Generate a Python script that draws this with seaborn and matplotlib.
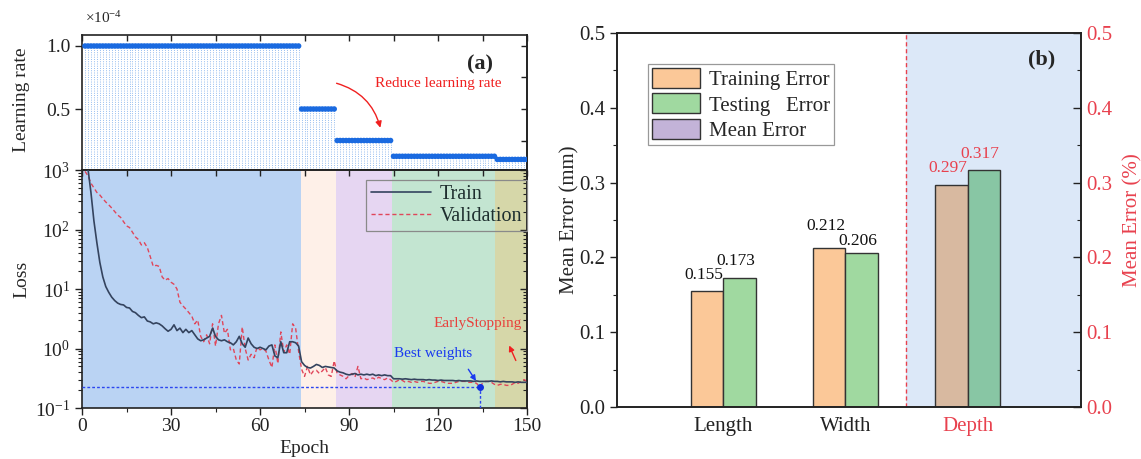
import numpy as np
import pandas as pd
import matplotlib
matplotlib.use("Agg")
import matplotlib.pyplot as plt
import seaborn as sns
from matplotlib.patches import Patch
from matplotlib.ticker import MultipleLocator, NullFormatter, FixedLocator

# ---------------- data ----------------
epochs = list(range(1, 151))

lr_levels = [1.0, 0.5, 0.25, 0.125, 0.1]          # x 1e-4
lr_epoch_counts = [73, 12, 19, 35, 11]
phase_edges = [0, 73.8, 85.6, 104.5, 139.2, 150]
phase_colors = ["#BAD3F3", "#FEF0E8", "#E6D6F2", "#C3E5D1", "#D6D7A9"]

train_loss = [
    1500, 1050, 420, 140, 60, 28, 16, 11, 8.8, 7.3,
    6.4, 5.8, 5.5, 5.4, 4.9, 4.8, 4.2, 4.0, 3.6, 3.3,
    3.4, 2.9, 2.8, 2.6, 2.7, 2.6, 2.4, 2.15, 1.95, 2.1,
    2.5, 2.0, 2.2, 1.85, 2.1, 1.85, 2.0, 1.7, 1.45, 1.35,
    1.4, 1.5, 1.6, 2.2, 1.6, 1.4, 1.35, 1.4, 1.3, 1.25,
    1.15, 1.3, 1.6, 1.2, 1.05, 1.5, 1.2, 1.05, 1.0, 1.05,
    1.0, 0.95, 1.1, 1.15, 0.75, 0.7, 1.3, 0.85, 0.85, 1.3,
    1.3, 1.25, 1.1, 0.6, 0.52, 0.48, 0.47, 0.5, 0.54, 0.52,
    0.48, 0.5, 0.49, 0.48, 0.47, 0.42, 0.40, 0.39, 0.37, 0.36,
    0.37, 0.38, 0.36, 0.37, 0.36, 0.37, 0.36, 0.37, 0.35, 0.36,
    0.35, 0.36, 0.35, 0.35, 0.31, 0.31, 0.31, 0.305, 0.31, 0.305,
    0.30, 0.305, 0.30, 0.30, 0.30, 0.295, 0.30, 0.295, 0.295, 0.29,
    0.295, 0.29, 0.29, 0.29, 0.29, 0.285, 0.29, 0.285, 0.285, 0.285,
    0.285, 0.28, 0.285, 0.28, 0.28, 0.28, 0.28, 0.285, 0.28, 0.28,
    0.275, 0.28, 0.275, 0.275, 0.275, 0.27, 0.275, 0.27, 0.27, 0.27,
]

val_loss = [
    950, 800, 600, 500, 420, 380, 330, 290, 260, 230,
    200, 175, 160, 135, 115, 108, 90, 75, 68, 55,
    60, 50, 35, 24, 25, 24, 16, 14, 15, 13,
    12, 10, 6.0, 5.2, 4.6, 4.0, 3.5, 2.6, 3.0, 1.6,
    1.3, 1.7, 1.2, 2.6, 1.1, 2.6, 3.6, 1.8, 2.1, 0.95,
    1.0, 0.64, 0.55, 2.3, 1.0, 0.64, 0.8, 0.7, 1.06, 0.95,
    1.0, 0.9, 0.64, 0.48, 1.15, 0.56, 1.9, 0.88, 1.15, 0.8,
    2.6, 2.2, 0.9, 0.45, 0.34, 0.5, 0.36, 0.42, 0.43, 0.38,
    0.42, 0.48, 0.36, 0.34, 0.62, 0.38, 0.36, 0.34, 0.31, 0.35,
    0.38, 0.33, 0.5, 0.31, 0.32, 0.30, 0.31, 0.32, 0.30, 0.33,
    0.31, 0.30, 0.32, 0.30, 0.27, 0.28, 0.30, 0.29, 0.27, 0.28,
    0.27, 0.28, 0.27, 0.28, 0.28, 0.27, 0.26, 0.26, 0.27, 0.28,
    0.28, 0.27, 0.26, 0.26, 0.26, 0.27, 0.28, 0.28, 0.28, 0.27,
    0.27, 0.27, 0.26, 0.225, 0.26, 0.28, 0.28, 0.27, 0.25, 0.24,
    0.25, 0.25, 0.24, 0.24, 0.25, 0.27, 0.26, 0.28, 0.30, 0.28,
]
best_epoch = 134

dims = ["Length", "Width", "Depth"]
train_err = [0.155, 0.212, 0.297]
test_err = [0.173, 0.206, 0.317]
legend_labels = ["Training Error", "Testing   Error", "Mean Error"]

# ---------------- style ----------------
sns.set_theme(style="ticks")
plt.rcParams["font.family"] = ["Liberation Serif", "DejaVu Serif"]
plt.rcParams["mathtext.fontset"] = "custom"
plt.rcParams["mathtext.rm"] = "Liberation Serif"
plt.rcParams["mathtext.it"] = "Liberation Serif:italic"
plt.rcParams["mathtext.bf"] = "Liberation Serif:bold"
plt.rcParams["axes.linewidth"] = 1.2
plt.rcParams["axes.edgecolor"] = "#222222"
plt.rcParams["xtick.color"] = "#222222"
plt.rcParams["ytick.color"] = "#222222"

RED = "#E8414E"
C_TRAIN = "#FBC898"
C_TEST = "#A0D9A0"
C_MEAN = "#C3B3D8"
C_TRAIN_D = "#D8B9A0"
C_TEST_D = "#88C6A4"

fig = plt.figure(figsize=(11.41, 4.59), dpi=100)
ax_lr = fig.add_axes([0.0719, 0.6296, 0.390, 0.2941])
ax_loss = fig.add_axes([0.0719, 0.1111, 0.390, 0.5185])
ax_bar = fig.add_axes([0.5408, 0.1133, 0.4067, 0.8148])

# ---------------- learning rate ----------------
lr = [lv for lv, n in zip(lr_levels, lr_epoch_counts) for _ in range(n)]
lr_bottom = 0.016
ax_lr.set_xlim(0, 150)
ax_lr.set_ylim(lr_bottom, 1.087)
ax_lr.vlines(epochs, lr_bottom, lr, colors="#86B4EE", linestyles=(0, (1, 1.5)),
             linewidth=0.65, zorder=1)
sns.scatterplot(x=epochs, y=lr, ax=ax_lr, s=16, color="#1A6AE0",
                edgecolor="none", zorder=3, legend=False)
ax_lr.xaxis.tick_top()
ax_lr.xaxis.set_major_locator(MultipleLocator(15))
ax_lr.tick_params(axis="x", direction="in", length=4, width=1, labeltop=False,
                  labelbottom=False)
ax_lr.set_yticks([0.5, 1.0])
ax_lr.set_yticklabels(["0.5", "1.0"])
ax_lr.tick_params(axis="y", direction="out", length=5, width=1, labelsize=14)
sec_lr = ax_lr.secondary_yaxis("right")
sec_lr.yaxis.set_major_locator(FixedLocator([0.25, 0.5, 0.75, 1.0]))
sec_lr.yaxis.set_major_formatter(NullFormatter())
sec_lr.tick_params(direction="in", length=4, width=1)
ax_lr.set_ylabel("Learning rate", fontsize=14)
ax_lr.yaxis.set_label_coords(-0.117, 0.52)
fig.text(85 / 1141, 1 - 18 / 459, r"$\times$10$^{-4}$", fontsize=11,
         ha="left", va="center")
ax_lr.text(134, 0.857, "(a)", fontsize=16, fontweight="bold", ha="center",
           va="center")
ax_lr.text(98.8, 0.706, "Reduce learning rate", fontsize=11, color="#F02020",
           ha="left", va="center")
ax_lr.annotate("", xy=(100.8, 0.33), xytext=(84.9, 0.71),
               arrowprops=dict(arrowstyle="-|>", color="#F02020", lw=1,
                               connectionstyle="arc3,rad=-0.3",
                               mutation_scale=9))

# ---------------- loss ----------------
for a, b, c in zip(phase_edges[:-1], phase_edges[1:], phase_colors):
    ax_loss.axvspan(a, b, color=c, lw=0, zorder=0)
sns.lineplot(x=epochs, y=train_loss, ax=ax_loss, color="#34435E", lw=1.2,
             label="Train", zorder=3)
sns.lineplot(x=epochs, y=val_loss, ax=ax_loss, color="#E0465A", lw=1.0,
             linestyle=(0, (3, 2)), label="Validation", zorder=2)
ax_loss.set_yscale("log")
ax_loss.set_xlim(0, 150)
ax_loss.set_ylim(0.1, 1000)

best_loss = val_loss[best_epoch - 1]
ax_loss.plot([0, best_epoch], [best_loss, best_loss], color="#2B45F0",
             ls=(0, (2, 1.5)), lw=1, zorder=4)
ax_loss.plot([best_epoch, best_epoch], [0.1, best_loss], color="#2B45F0",
             ls=(0, (2, 1.5)), lw=1, zorder=4)
ax_loss.plot([best_epoch], [best_loss], "o", color="#1030E0", ms=4, zorder=5)
ax_loss.text(105.2, 0.81, "Best weights", fontsize=11, color="#1A3AF0",
             ha="left", va="center")
ax_loss.annotate("", xy=(133.3, 0.26), xytext=(129.7, 0.49),
                 arrowprops=dict(arrowstyle="-|>", color="#1A3AF0", lw=1,
                                 mutation_scale=8))
ax_loss.text(118.6, 2.68, "EarlyStopping", fontsize=11, color="#E8413C",
             ha="left", va="center")
ax_loss.annotate("", xy=(143.6, 1.24), xytext=(146.6, 0.57),
                 arrowprops=dict(arrowstyle="-|>", color="#F02020", lw=1,
                                 mutation_scale=8))

ax_loss.xaxis.set_major_locator(MultipleLocator(30))
ax_loss.xaxis.set_minor_locator(MultipleLocator(15))
ax_loss.tick_params(axis="both", which="major", direction="out", length=5,
                    width=1, labelsize=14)
ax_loss.tick_params(axis="both", which="minor", direction="out", length=3,
                    width=0.8)
ax_loss.tick_params(axis="x", pad=2)
sec_top = ax_loss.secondary_xaxis("top")
sec_top.xaxis.set_major_locator(MultipleLocator(15))
sec_top.xaxis.set_major_formatter(NullFormatter())
sec_top.tick_params(direction="in", length=4, width=1)
sec_right = ax_loss.secondary_yaxis("right")
sec_right.tick_params(which="major", direction="in", length=5, width=1)
sec_right.tick_params(which="minor", direction="in", length=3, width=0.8)
sec_right.yaxis.set_major_formatter(NullFormatter())
sec_right.yaxis.set_minor_formatter(NullFormatter())
ax_loss.set_xlabel("Epoch", fontsize=14, labelpad=4)
ax_loss.set_ylabel("Loss", fontsize=14)
ax_loss.yaxis.set_label_coords(-0.117, 0.54)
leg = ax_loss.legend(loc="upper right", bbox_to_anchor=(1.0, 0.958),
                     frameon=True, fancybox=False, fontsize=14.5,
                     handlelength=3.0, borderaxespad=0, borderpad=0.25,
                     labelspacing=0.15, handletextpad=0.4)
frame = leg.get_frame()
frame.set_alpha(None)
frame.set_facecolor("none")
frame.set_edgecolor("#8A8A8A")
frame.set_linewidth(0.9)
for t in leg.get_texts():
    t.set_color("#1E2E2E")

# ---------------- bars ----------------
df = pd.DataFrame({
    "Dim": dims * 2,
    "Error": train_err + test_err,
    "Set": ["Training"] * len(dims) + ["Testing"] * len(dims),
})
sns.barplot(data=df, x="Dim", y="Error", hue="Set", order=dims,
            hue_order=["Training", "Testing"], palette=[C_TRAIN, C_TEST],
            width=0.53, edgecolor="#333333", linewidth=1, ax=ax_bar,
            legend=False, saturation=1, zorder=2)
ax_bar.set_xlim(-0.87, 2.93)
ax_bar.set_ylim(0, 0.5)
ax_bar.axvspan(1.5, 2.93, color="#DCE8F8", lw=0, zorder=0)
ax_bar.axvline(1.5, color=RED, ls=(0, (3, 2)), lw=1, zorder=1)

label_offsets = [[6, 6.5], [10.5, 3], [6.5, 6]]   # points above bar top
for hi, cont in enumerate(ax_bar.containers):
    for ci, bar in enumerate(cont):
        if dims[ci] == "Depth":
            bar.set_facecolor(C_TRAIN_D if hi == 0 else C_TEST_D)
        h = bar.get_height()
        xc = bar.get_x() + bar.get_width() / 2 - 0.03
        ax_bar.annotate(f"{h:.3f}", xy=(xc, h),
                        xytext=(0, label_offsets[ci][hi]),
                        textcoords="offset points", ha="center", va="bottom",
                        fontsize=12.5,
                        color=RED if dims[ci] == "Depth" else "#111111")

ax_bar.set_xlabel("")
ax_bar.set_ylabel("Mean Error (mm)", fontsize=15)
ax_bar.yaxis.set_label_coords(-0.08, 0.5)
ax_bar.yaxis.set_major_locator(MultipleLocator(0.1))
ax_bar.yaxis.set_minor_locator(MultipleLocator(0.05))
ax_bar.tick_params(axis="y", which="major", direction="out", length=5,
                   width=1, labelsize=15)
ax_bar.tick_params(axis="y", which="minor", direction="out", length=3,
                   width=0.8)
ax_bar.tick_params(axis="x", length=0, labelsize=15, pad=7)
for lbl in ax_bar.get_xticklabels():
    if lbl.get_text() == "Depth":
        lbl.set_color(RED)

tw = ax_bar.twinx()
tw.set_ylim(0, 0.5)
tw.yaxis.set_major_locator(MultipleLocator(0.1))
tw.yaxis.set_minor_locator(MultipleLocator(0.05))
tw.tick_params(axis="y", which="major", direction="in", length=6, width=1,
               labelsize=15, labelcolor=RED)
tw.tick_params(axis="y", which="minor", direction="in", length=3, width=0.8)
tw.set_ylabel("Mean Error (%)", fontsize=15, color=RED)
tw.yaxis.set_label_coords(1.09, 0.5)

ax_bar.text(0.914, 0.928, "(b)", transform=ax_bar.transAxes, fontsize=16,
            fontweight="bold", ha="center", va="center")

handles = [Patch(facecolor=c, edgecolor="#333333", lw=1)
           for c in [C_TRAIN, C_TEST, C_MEAN]]
bleg = ax_bar.legend(handles, legend_labels, loc="upper left",
                     bbox_to_anchor=(0.067, 0.917), fontsize=15,
                     frameon=True, fancybox=False, edgecolor="#999999",
                     framealpha=1, handlelength=2.3, handleheight=1.1,
                     borderpad=0.2, labelspacing=0.15, handletextpad=0.4,
                     borderaxespad=0)
bleg.get_frame().set_linewidth(0.9)

fig.savefig("out.png", dpi=100)
